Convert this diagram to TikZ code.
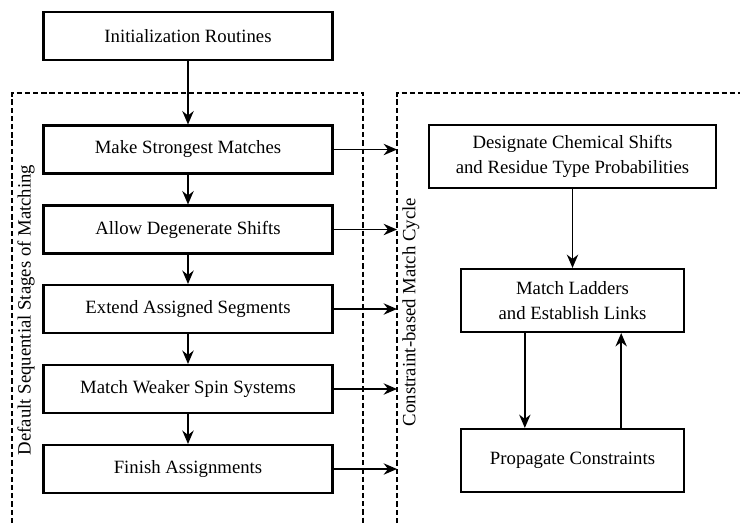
\documentclass[tikz,border=0pt]{standalone}
\usepackage{fontspec}
\setmainfont{Liberation Serif}
\newfontfamily\boxfont{Liberation Serif}
\usetikzlibrary{arrows.meta, positioning}
\tikzset{
  every picture/.style={line width=1.8pt},
  stage/.style={draw, minimum width=8.67cm, minimum height=1.44cm, align=center, inner sep=2pt, font=\boxfont\fontsize{16}{21}\selectfont},
  cycbox/.style={stage, minimum width=#1, minimum height=1.89cm},
  arrow/.style={-{Stealth[length=4mm, width=3.4mm, inset=1.3mm]}, line width=1.5pt},
  frame/.style={dash pattern=on 4.5pt off 2.5pt, line width=1.3pt},
  sidelabel/.style={rotate=90, font=\boxfont\fontsize{16}{21}\selectfont},
}

\begin{document}
\begin{tikzpicture}[x=0.03cm, y=-0.03cm]
  \useasboundingbox (0,0) rectangle (740,523);

  % dashed frames, open at the bottom
  \draw[frame] (12,523) -- (12,93) -- (363,93) -- (363,523);
  \draw[frame] (397,523) -- (397,93) -- (740,93);
  \coordinate (cycedge) at (397,93);
  \node[sidelabel] (seqlabel) at (26,310) {Default Sequential Stages of Matching};
  \node[sidelabel] (cyclabel) at (411,312) {Constraint-based Match Cycle};

  % sequential stages
  \node[stage, minimum height=1.44cm] (init) at (188,36) {Initialization Routines};
  \node[stage] (strong) at (188,149.5) {Make Strongest Matches};
  \node[stage] (degen)  at (188,229.5) {Allow Degenerate Shifts};
  \node[stage] (extend) at (188,309)   {Extend Assigned Segments};
  \node[stage] (weak)   at (188,389)   {Match Weaker Spin Systems};
  \node[stage] (finish) at (188,469)   {Finish Assignments};
  \draw[arrow] (init) -- (strong);
  \draw[arrow] (strong) -- (degen);
  \draw[arrow] (degen) -- (extend);
  \draw[arrow] (extend) -- (weak);
  \draw[arrow] (weak) -- (finish);
  \foreach \s in {strong, degen, extend, weak, finish}
    \draw[arrow] (\s.east) -- (\s.east -| cycedge);

  % match cycle
  \node[cycbox=8.61cm] (designate) at (572.5,156.5) {Designate Chemical Shifts\\ and Residue Type Probabilities};
  \node[cycbox=6.69cm] (ladders) at (572.5,300.5) {Match Ladders\\ and Establish Links};
  \node[cycbox=6.69cm] (propagate) at (572.5,460.5) {Propagate Constraints};
  \draw[arrow] (designate) -- (ladders);
  \draw[arrow] ([xshift=-1.43cm]ladders.south) -- ([xshift=-1.43cm]propagate.north);
  \draw[arrow] ([xshift=1.46cm]propagate.north) -- ([xshift=1.46cm]ladders.south);
\end{tikzpicture}
\end{document}
